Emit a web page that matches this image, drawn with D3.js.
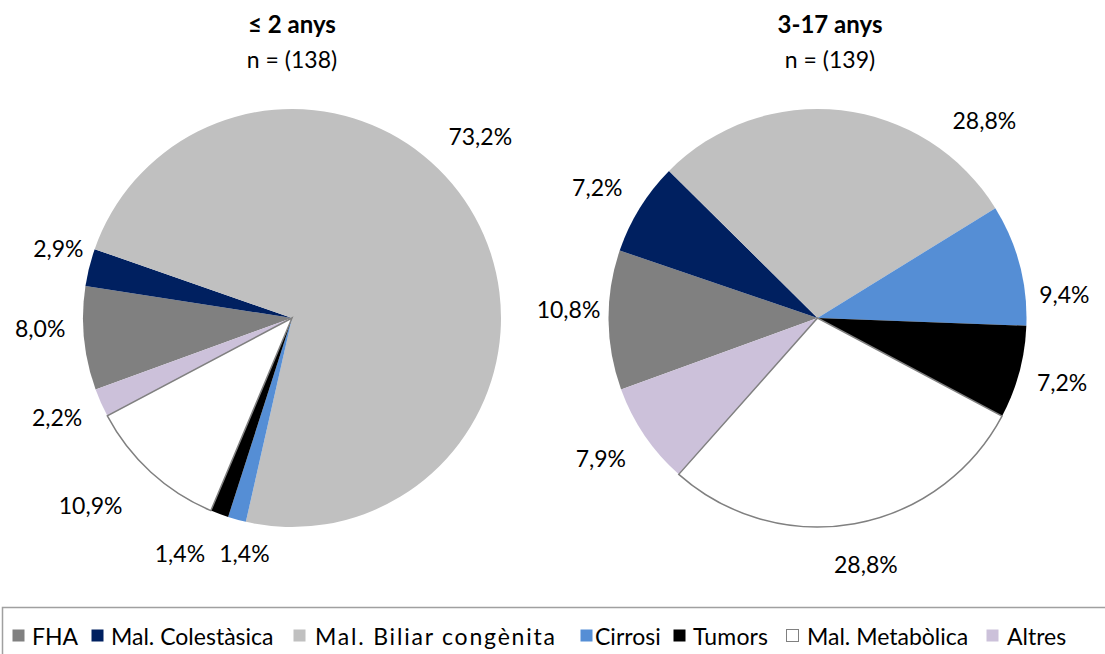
<!DOCTYPE html>
<html>
<head>
<meta charset="utf-8">
<script src="https://cdn.jsdelivr.net/npm/d3@7/dist/d3.min.js"></script>
<style>
  body { margin: 0; background: #fff; }
  svg { display: block; font-family: Lato, "Open Sans", sans-serif; }
</style>
</head>
<body>
<svg id="chart"></svg>
<script>
// categories, in legend order
var categories = ["FHA", "Mal. Colestàsica", "Mal. Biliar congènita", "Cirrosi", "Tumors", "Mal. Metabòlica", "Altres"];
var colors = ["#808080", "#002060", "#c0c0c0", "#558ed5", "#000000", "#ffffff", "#ccc1da"];

// percentages
var valuesYoung = [8.0, 2.9, 73.2, 1.4, 1.4, 10.9, 2.2];
var valuesOld = [10.8, 7.2, 28.8, 9.4, 7.2, 28.8, 7.9];

var titles = ["≤ 2 anys", "3-17 anys"];
var subtitles = ["n = (138)", "n = (139)"];

var width = 1105, height = 654;
var svg = d3.select("#chart").attr("width", width).attr("height", height);

var radius = 209;
var labelRadius = 245;
var startDeg = 250; // first slice rotation, clockwise from 12 o'clock

// label nudges away from the radial position (Excel "best fit")
var nudgeYoung = [[-8, -13], [4, -10], [-26, -62], [17, 0], [-27, 6], [-36, 7], [-11, 1]];
var nudgeOld = [[-4, -10], [-12, -1], [139, 46], [10, 40], [8, 1], [5, 6], [-14, 3]];

var pies = [
    {values: valuesYoung, cx: 292, cy: 318, titleX: 292, nudge: nudgeYoung},
    {values: valuesOld, cx: 817.5, cy: 318, titleX: 830, nudge: nudgeOld}
];

var pie = d3.pie()
    .sort(null)
    .value(function (d) { return d; })
    .startAngle(startDeg * Math.PI / 180)
    .endAngle((startDeg + 360) * Math.PI / 180);

var arc = d3.arc().innerRadius(0).outerRadius(radius);
var labelArc = d3.arc().innerRadius(labelRadius).outerRadius(labelRadius);

var fmt = function (v) { return v.toFixed(1).replace(".", ",") + "%"; };

pies.forEach(function (p, k) {
    var g = svg.append("g").attr("transform", "translate(" + p.cx + "," + p.cy + ")");
    var arcs = pie(p.values);

    g.selectAll("path")
        .data(arcs)
        .enter().append("path")
        .attr("d", arc)
        .attr("fill", function (d, i) { return colors[i]; })
        .attr("stroke", "none");

    // white slice outline drawn on top so neighbours don't cover it
    g.append("path")
        .attr("d", arc(arcs[5]))
        .attr("fill", "none")
        .attr("stroke", "#808080")
        .attr("stroke-width", 1.5);

    g.selectAll("text.lbl")
        .data(arcs)
        .enter().append("text")
        .attr("class", "lbl")
        .attr("x", function (d, i) { return labelArc.centroid(d)[0] + p.nudge[i][0]; })
        .attr("y", function (d, i) { return labelArc.centroid(d)[1] + p.nudge[i][1] + 8; })
        .attr("text-anchor", "middle")
        .attr("font-size", 23)
        .attr("fill", "#000")
        .text(function (d) { return fmt(d.data); });

    svg.append("text")
        .attr("x", p.titleX).attr("y", 33)
        .attr("text-anchor", "middle")
        .attr("font-size", 24)
        .attr("font-weight", "bold")
        .text(titles[k]);
    svg.append("text")
        .attr("x", p.titleX).attr("y", 68)
        .attr("text-anchor", "middle")
        .attr("font-size", 23)
        .text(subtitles[k]);
});

// legend
var legendX = [12, 91, 293, 580, 673, 786, 986];
var legendTextX = [32, 111, 315, 595, 693, 807, 1007];
var legendTextW = [40, 158, 240, 62, 75, 161, 56];

svg.append("rect")
    .attr("x", 2.5).attr("y", 607.5)
    .attr("width", width + 10).attr("height", 60)
    .attr("fill", "none")
    .attr("stroke", "#a0a0a0")
    .attr("stroke-width", 1.5);

var leg = svg.selectAll("g.leg")
    .data(categories)
    .enter().append("g")
    .attr("class", "leg");

leg.append("rect")
    .attr("x", function (d, i) { return legendX[i] + 0.5; })
    .attr("y", 629.5)
    .attr("width", 12).attr("height", 12)
    .attr("fill", function (d, i) { return colors[i]; })
    .attr("stroke", function (d, i) { return i === 5 ? "#808080" : "none"; });

leg.append("text")
    .attr("x", function (d, i) { return legendTextX[i]; })
    .attr("y", 645)
    .attr("font-size", 23)
    .text(function (d) { return d; })
    .each(function (d, i) {
        // only stretch the spacing where the text is narrower than in the original
        if (this.getComputedTextLength() < legendTextW[i]) {
            d3.select(this).attr("textLength", legendTextW[i]).attr("lengthAdjust", "spacing");
        }
    });
</script>
</body>
</html>
